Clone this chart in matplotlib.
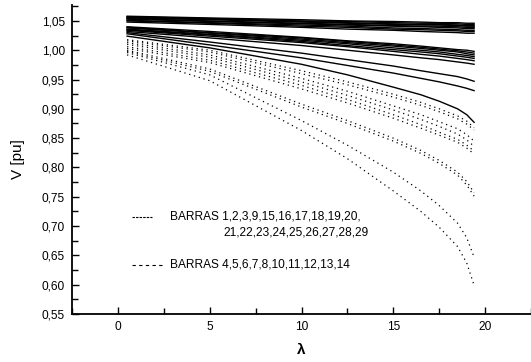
import numpy as np
import matplotlib
matplotlib.use("Agg")
import matplotlib.pyplot as plt
from matplotlib.ticker import MultipleLocator, FuncFormatter

plt.rcParams['font.family'] = ['Liberation Sans', 'DejaVu Sans']

# valores de lambda donde se leyeron las curvas
lam = [0.5, 5, 10, 12.5, 15, 16.5, 17.5, 18.5, 19.0, 19.4]

# barras 1,2,3,9,15..29 (continuas)
solid = [
    [1.058, 1.055, 1.052, 1.050, 1.049, 1.048, 1.047, 1.047, 1.046, 1.046],
    [1.057, 1.054, 1.050, 1.049, 1.047, 1.046, 1.046, 1.045, 1.044, 1.044],
    [1.056, 1.053, 1.049, 1.047, 1.045, 1.044, 1.044, 1.043, 1.042, 1.042],
    [1.055, 1.052, 1.048, 1.046, 1.044, 1.043, 1.043, 1.042, 1.041, 1.041],
    [1.054, 1.050, 1.046, 1.044, 1.042, 1.041, 1.041, 1.040, 1.039, 1.039],
    [1.053, 1.049, 1.045, 1.043, 1.041, 1.040, 1.039, 1.038, 1.037, 1.037],
    [1.051, 1.047, 1.043, 1.041, 1.038, 1.037, 1.036, 1.035, 1.034, 1.034],
    [1.050, 1.046, 1.041, 1.039, 1.036, 1.035, 1.034, 1.033, 1.032, 1.032],
    [1.048, 1.044, 1.039, 1.036, 1.034, 1.032, 1.031, 1.030, 1.029, 1.029],
    [1.040, 1.032, 1.022, 1.016, 1.011, 1.007, 1.004, 1.001, 1.000, 0.998],
    [1.039, 1.030, 1.021, 1.015, 1.009, 1.005, 1.002, 0.999, 0.997, 0.995],
    [1.038, 1.029, 1.019, 1.013, 1.007, 1.003, 1.000, 0.997, 0.994, 0.992],
    [1.036, 1.027, 1.017, 1.011, 1.004, 1.000, 0.997, 0.993, 0.991, 0.989],
    [1.035, 1.026, 1.015, 1.008, 1.001, 0.997, 0.994, 0.990, 0.988, 0.986],
    [1.034, 1.024, 1.013, 1.006, 0.998, 0.993, 0.990, 0.986, 0.984, 0.982],
    [1.032, 1.021, 1.008, 1.000, 0.992, 0.987, 0.984, 0.980, 0.978, 0.976],
    [1.030, 1.014, 0.995, 0.984, 0.973, 0.965, 0.960, 0.955, 0.951, 0.947],
    [1.028, 1.009, 0.987, 0.974, 0.961, 0.952, 0.946, 0.939, 0.935, 0.931],
    [1.024, 1.004, 0.976, 0.958, 0.937, 0.924, 0.913, 0.900, 0.890, 0.877],
]

# barras 4,5,6,7,8,10..14 (punteadas)
dotted = [
    [1.018, 1.000, 0.965, 0.946, 0.925, 0.911, 0.900, 0.888, 0.879, 0.868],
    [1.016, 0.997, 0.960, 0.941, 0.920, 0.906, 0.895, 0.883, 0.874, 0.864],
    [1.013, 0.992, 0.952, 0.930, 0.905, 0.890, 0.878, 0.866, 0.856, 0.845],
    [1.010, 0.988, 0.946, 0.923, 0.898, 0.882, 0.870, 0.857, 0.847, 0.836],
    [1.006, 0.983, 0.940, 0.916, 0.890, 0.873, 0.860, 0.848, 0.838, 0.828],
    [1.003, 0.979, 0.934, 0.910, 0.884, 0.867, 0.855, 0.843, 0.833, 0.823],
    [1.000, 0.968, 0.908, 0.880, 0.850, 0.829, 0.812, 0.792, 0.776, 0.757],
    [0.998, 0.964, 0.903, 0.875, 0.845, 0.824, 0.807, 0.787, 0.770, 0.751],
    [0.996, 0.958, 0.880, 0.838, 0.792, 0.760, 0.735, 0.705, 0.680, 0.647],
    [0.992, 0.948, 0.863, 0.815, 0.760, 0.725, 0.698, 0.665, 0.637, 0.599],
]

leg1 = "BARRAS 1,2,3,9,15,16,17,18,19,20,"
leg1b = "21,22,23,24,25,26,27,28,29"
leg2 = "BARRAS 4,5,6,7,8,10,11,12,13,14"

fig = plt.figure(figsize=(5.31, 3.62), dpi=100)
ax = fig.add_axes([0.1356, 0.1326, 0.8644, 0.8534])

for v in solid:
    ax.plot(lam, v, color='black', lw=1.0)
for v in dotted:
    ax.plot(lam, v, color='black', lw=0.9, linestyle=(0, (1, 3)))

# leyenda hecha a mano
ax.plot([0.131, 0.174], [0.314, 0.314], transform=ax.transAxes, color='black',
        lw=0.8, linestyle=(0, (2.2, 1)))
ax.plot([0.131, 0.199], [0.159, 0.159], transform=ax.transAxes, color='black',
        lw=0.8, linestyle=(0, (3, 3)))
ax.text(0.2135, 0.314, leg1, transform=ax.transAxes, fontsize=8.6, va='center')
ax.text(0.329, 0.265, leg1b, transform=ax.transAxes, fontsize=8.6, va='center')
ax.text(0.2135, 0.159, leg2, transform=ax.transAxes, fontsize=8.6, va='center')

ax.set_xlim(-2.5, 22.5)
ax.set_ylim(0.55, 1.077)
ax.xaxis.set_major_locator(MultipleLocator(5))
ax.xaxis.set_minor_locator(MultipleLocator(2.5))
ax.yaxis.set_major_locator(MultipleLocator(0.05))
ax.yaxis.set_minor_locator(MultipleLocator(0.025))
ax.yaxis.set_major_formatter(FuncFormatter(lambda v, p: f"{v:.2f}".replace('.', ',')))

for s in ['top', 'right']:
    ax.spines[s].set_visible(False)
for s in ['left', 'bottom']:
    ax.spines[s].set_linewidth(1.3)

ax.tick_params(which='both', direction='in', labelsize=8.6, width=1.0)
ax.tick_params(which='major', length=5, pad=5)
ax.tick_params(which='minor', length=4)

ax.set_xlabel("λ", fontsize=11, fontweight='bold', labelpad=7)
ax.set_ylabel("V [pu]", fontsize=11, labelpad=12)

fig.savefig("out.png", dpi=100)
